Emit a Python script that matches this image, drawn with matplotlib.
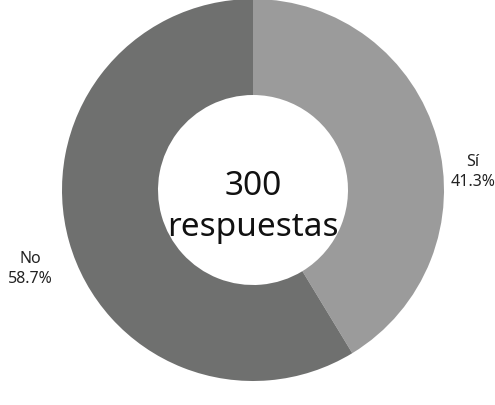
import matplotlib.pyplot as plt

# datos
labels = ['Sí', 'No']
values = [41.3, 58.7]
colors = ['#9b9b9b', '#6f706f']
total = 300

plt.rcParams['font.family'] = ['Noto Sans', 'DejaVu Sans']

fig = plt.figure(figsize=(4.95, 4.06), dpi=100)
ax = fig.add_axes([0, 0, 1, 1])
ax.axis('off')

ax.pie(values, colors=colors, startangle=90, counterclock=False,
       center=(253, 215), radius=191,
       wedgeprops=dict(width=96, edgecolor='none'))
ax.set_xlim(0, 495)
ax.set_ylim(0, 406)
ax.set_aspect('equal')

ax.text(253, 199, f'{total}\nrespuestas', ha='center', va='center',
        fontsize=24, fontweight='light', color='#111111', linespacing=1.3)

ax.text(473, 234, f'{labels[0]}\n{values[0]}%', ha='center', va='center',
        fontsize=11.5, color='#222222', linespacing=1.35)
ax.text(30, 137, f'{labels[1]}\n{values[1]}%', ha='center', va='center',
        fontsize=11.5, color='#222222', linespacing=1.35)

fig.savefig('out.png', dpi=100)
